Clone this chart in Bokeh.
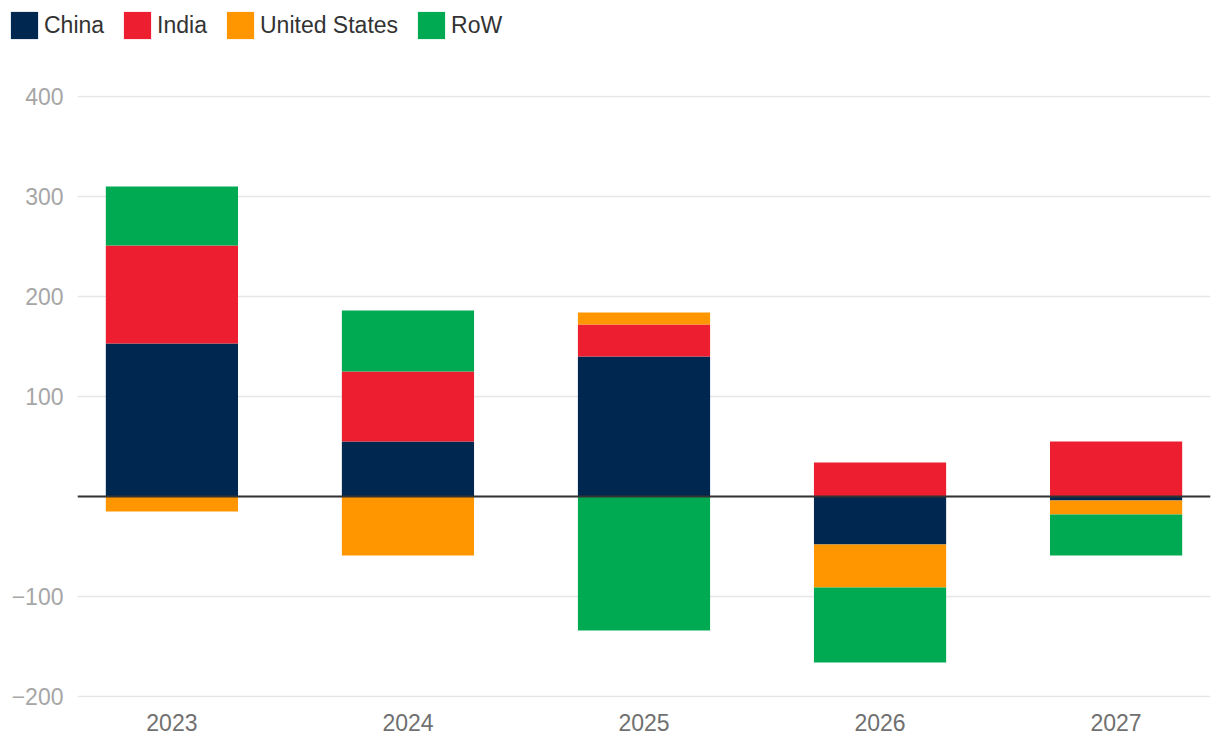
import numpy as np
from bokeh.plotting import figure
from bokeh.models import Range1d, FixedTicker, Span, Legend, LegendItem
from bokeh.layouts import column, row
from bokeh.embed import file_html
from bokeh.resources import INLINE

years = [2023, 2024, 2025, 2026, 2027]
year_labels = ["2023", "2024", "2025", "2026", "2027"]
china = [153, 55, 140, -48, -4]
india = [98, 70, 32, 34, 55]
united_states = [-15, -59, 12, -43, -14]
row_values = [59, 61, -134, -75, -41]

series_names = ["China", "India", "United States", "RoW"]
series_values = [china, india, united_states, row_values]
series_colors = ["#002750", "#EC1E2F", "#FF9600", "#00AA52"]

y_ticks = [-200, -100, 0, 100, 200, 300, 400]
y_tick_labels = ["\u2212200", "\u2212100", "", "100", "200", "300", "400"]

FONT = "Liberation Sans"
FS = "23px"
W = 1212

# stacked bottoms/tops (positive and negative stacks separately)
stacks = []
pos_base = np.zeros(len(years))
neg_base = np.zeros(len(years))
for vals in series_values:
    v = np.array(vals, dtype=float)
    bottom = np.where(v >= 0, pos_base, neg_base)
    top = bottom + v
    pos_base = np.where(v >= 0, top, pos_base)
    neg_base = np.where(v < 0, top, neg_base)
    stacks.append((bottom, top))

# legend strip (its own small figure; its bars fall outside its ranges)
lg = figure(width=W, height=50, output_backend="svg", toolbar_location=None,
            x_axis_type=None, y_axis_type=None,
            x_range=Range1d(5000, 5001), y_range=Range1d(5000, 5001),
            min_border_left=0, min_border_right=0, min_border_top=0, min_border_bottom=0)
lg.outline_line_color = None
lg.xgrid.visible = False
lg.ygrid.visible = False
items = []
for name, col, (b, t) in zip(series_names, series_colors, stacks):
    r = lg.vbar(x=years, bottom=b, top=t, width=0.56, fill_color=col, line_color=None)
    items.append(LegendItem(label=name, renderers=[r]))
legend = Legend(items=items, orientation="horizontal", location=(7, 8),
                glyph_width=34, glyph_height=34, label_standoff=3, spacing=16,
                padding=0, margin=0, border_line_color=None, background_fill_alpha=0,
                label_text_font=FONT, label_text_font_size=FS, label_text_color="#333333")
lg.add_layout(legend)

# main chart
p = figure(width=W, height=690, output_backend="svg", toolbar_location=None,
           x_range=Range1d(2022.6, 2027.4), y_range=Range1d(-201, 401),
           min_border_left=77, min_border_right=2, min_border_top=45, min_border_bottom=43)
p.outline_line_color = None

for col, (b, t) in zip(series_colors, stacks):
    p.vbar(x=years, bottom=b, top=t, width=0.56, fill_color=col, line_color=None)

p.add_layout(Span(location=0, dimension="width", line_color="#333333", line_width=2))

p.xaxis.ticker = FixedTicker(ticks=years)
p.xaxis.major_label_overrides = {y: l for y, l in zip(years, year_labels)}
p.yaxis.ticker = FixedTicker(ticks=y_ticks)
p.yaxis.major_label_overrides = {t: l for t, l in zip(y_ticks, y_tick_labels)}
for ax in (p.xaxis, p.yaxis):
    ax.axis_line_color = None
    ax.major_tick_line_color = None
    ax.minor_tick_line_color = None
    ax.major_label_text_font = FONT
    ax.major_label_text_font_size = FS
p.xaxis.major_label_text_color = "#707070"
p.yaxis.major_label_text_color = "#A6A6A6"
p.xaxis.major_label_standoff = 10
p.yaxis.major_label_standoff = 8

p.xgrid.grid_line_color = None
p.ygrid.grid_line_color = "#E6E6E6"
p.ygrid.grid_line_width = 1.5

layout = column(row(lg), p, spacing=0)
open("out.html", "w").write(file_html(layout, INLINE))
